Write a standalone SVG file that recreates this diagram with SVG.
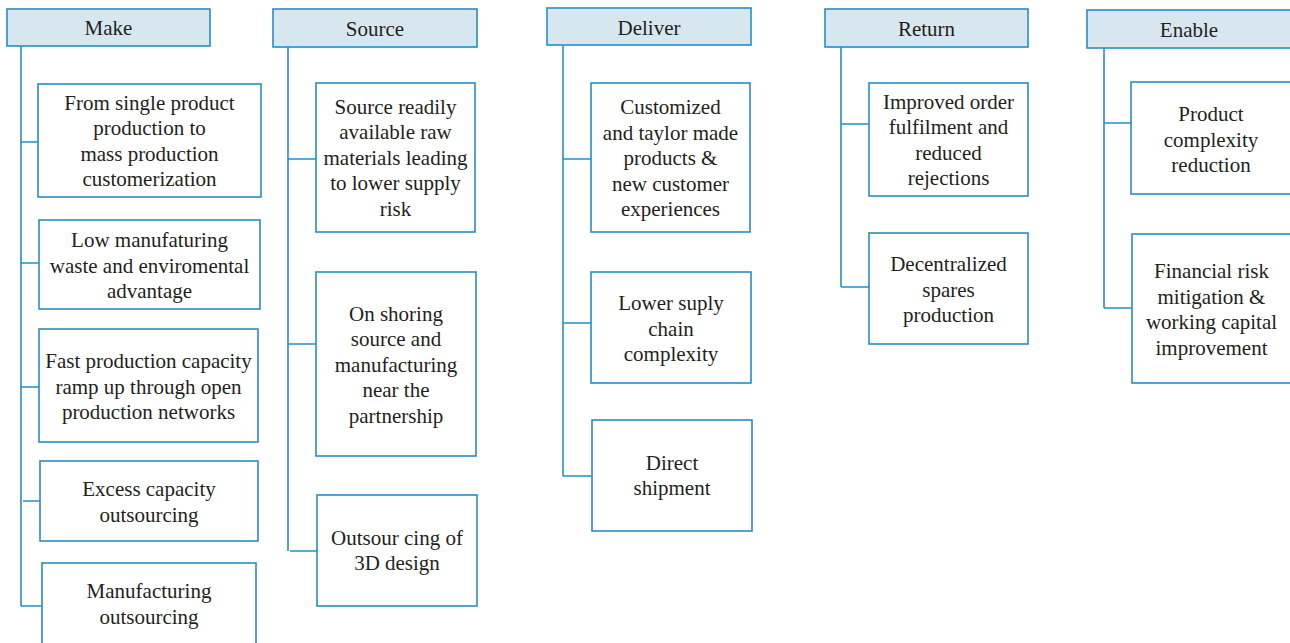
<svg xmlns="http://www.w3.org/2000/svg" width="1290" height="643" viewBox="0 0 1290 643">
  <style>
    .head { fill: #d7e7f0; stroke: #2a8dc2; stroke-width: 1.6; }
    .box { fill: #ffffff; stroke: #2a8dc2; stroke-width: 1.6; }
    .wire { fill: none; stroke: #2a8dc2; stroke-width: 1.6; }
    text { font-family: "Liberation Serif", "Times New Roman", serif; font-size: 21px; fill: #231f20; text-anchor: middle; }
  </style>
  <rect width="1290" height="643" fill="#ffffff"/>

  <!-- tree connectors: one trunk per column plus a branch to each box -->
  <g id="connectors" class="wire">
    <path d="M21 46 V606 M21 142 H38 M21 263 H39 M21 387 H39 M23 501 H40 M21 606 H42"/>
    <path d="M288 47 V551 M288 159 H316 M288 344 H316 M290 551 H317"/>
    <path d="M563 46 V476 M563 159 H591 M563 323 H591 M563 476 H592"/>
    <path d="M841 47 V287 M841 124 H869 M841 287 H869"/>
    <path d="M1104 48 V308 M1104 123 H1131 M1104 308 H1132"/>
  </g>

  <!-- column headers -->
  <g id="make">
    <rect class="head" x="7" y="9" width="203" height="37"/>
    <text x="108.5" y="35">Make</text>
  </g>
  <g id="source">
    <rect class="head" x="273" y="9" width="204" height="38"/>
    <text x="375" y="36">Source</text>
  </g>
  <g id="deliver">
    <rect class="head" x="547" y="8" width="204" height="37"/>
    <text x="649" y="34.5">Deliver</text>
  </g>
  <g id="return">
    <rect class="head" x="825" y="9" width="203" height="38"/>
    <text x="926.5" y="36">Return</text>
  </g>
  <g id="enable">
    <rect class="head" x="1087" y="10" width="210" height="38"/>
    <text x="1189" y="37">Enable</text>
  </g>

  <!-- Make column -->
  <g id="make-1">
    <rect class="box" x="38" y="84" width="223" height="113"/>
    <text x="149.5" y="109.75">From single product<tspan x="149.5" dy="25.5">production to</tspan><tspan x="149.5" dy="25.5">mass production</tspan><tspan x="149.5" dy="25.5">customerization</tspan></text>
  </g>
  <g id="make-2">
    <rect class="box" x="39" y="220" width="221" height="89"/>
    <text x="149.5" y="247">Low manufaturing<tspan x="149.5" dy="25.5">waste and enviromental</tspan><tspan x="149.5" dy="25.5">advantage</tspan></text>
  </g>
  <g id="make-3">
    <rect class="box" x="39" y="329" width="219" height="113"/>
    <text x="148.5" y="368">Fast production capacity<tspan x="148.5" dy="25.5">ramp up through open</tspan><tspan x="148.5" dy="25.5">production networks</tspan></text>
  </g>
  <g id="make-4">
    <rect class="box" x="40" y="461" width="218" height="80"/>
    <text x="149" y="496.25">Excess capacity<tspan x="149" dy="25.5">outsourcing</tspan></text>
  </g>
  <g id="make-5">
    <rect class="box" x="42" y="563" width="214" height="90"/>
    <text x="149" y="598.25">Manufacturing<tspan x="149" dy="25.5">outsourcing</tspan></text>
  </g>

  <!-- Source column -->
  <g id="source-1">
    <rect class="box" x="316" y="83" width="159" height="149"/>
    <text x="395.5" y="113.9">Source readily<tspan x="395.5" dy="25.5">available raw</tspan><tspan x="395.5" dy="25.5">materials leading</tspan><tspan x="395.5" dy="25.5">to lower supply</tspan><tspan x="395.5" dy="25.5">risk</tspan></text>
  </g>
  <g id="source-2">
    <rect class="box" x="316" y="272" width="160" height="184"/>
    <text x="396" y="320.5">On shoring<tspan x="396" dy="25.5">source and</tspan><tspan x="396" dy="25.5">manufacturing</tspan><tspan x="396" dy="25.5">near the</tspan><tspan x="396" dy="25.5">partnership</tspan></text>
  </g>
  <g id="source-3">
    <rect class="box" x="317" y="495" width="160" height="111"/>
    <text x="397" y="544.75">Outsour cing of<tspan x="397" dy="25.5">3D design</tspan></text>
  </g>

  <!-- Deliver column -->
  <g id="deliver-1">
    <rect class="box" x="591" y="83" width="159" height="149"/>
    <text x="670.5" y="114.1">Customized<tspan x="670.5" dy="25.5">and taylor made</tspan><tspan x="670.5" dy="25.5">products &amp;</tspan><tspan x="670.5" dy="25.5">new customer</tspan><tspan x="670.5" dy="25.5">experiences</tspan></text>
  </g>
  <g id="deliver-2">
    <rect class="box" x="591" y="272" width="160" height="111"/>
    <text x="671" y="310">Lower suply<tspan x="671" dy="25.5">chain</tspan><tspan x="671" dy="25.5">complexity</tspan></text>
  </g>
  <g id="deliver-3">
    <rect class="box" x="592" y="420" width="160" height="111"/>
    <text x="672" y="469.75">Direct<tspan x="672" dy="25.5">shipment</tspan></text>
  </g>

  <!-- Return column -->
  <g id="return-1">
    <rect class="box" x="869" y="83" width="159" height="113"/>
    <text x="948.5" y="108.75">Improved order<tspan x="948.5" dy="25.5">fulfilment and</tspan><tspan x="948.5" dy="25.5">reduced</tspan><tspan x="948.5" dy="25.5">rejections</tspan></text>
  </g>
  <g id="return-2">
    <rect class="box" x="869" y="233" width="159" height="111"/>
    <text x="948.5" y="271">Decentralized<tspan x="948.5" dy="25.5">spares</tspan><tspan x="948.5" dy="25.5">production</tspan></text>
  </g>

  <!-- Enable column -->
  <g id="enable-1">
    <rect class="box" x="1131" y="82" width="170" height="112"/>
    <text x="1211" y="121">Product<tspan x="1211" dy="25.5">complexity</tspan><tspan x="1211" dy="25.5">reduction</tspan></text>
  </g>
  <g id="enable-2">
    <rect class="box" x="1132" y="234" width="170" height="149"/>
    <text x="1211.5" y="278">Financial risk<tspan x="1211.5" dy="25.5">mitigation &amp;</tspan><tspan x="1211.5" dy="25.5">working capital</tspan><tspan x="1211.5" dy="25.5">improvement</tspan></text>
  </g>
</svg>
